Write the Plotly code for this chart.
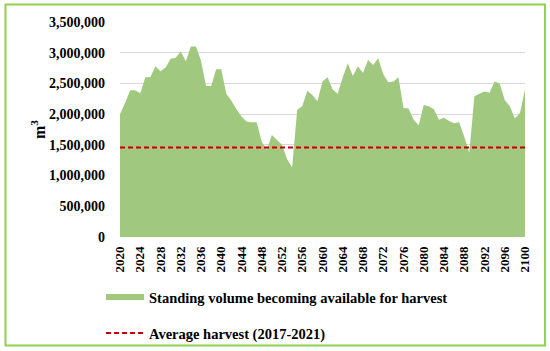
import plotly.graph_objects as go

years = list(range(2020, 2101))
standing_volume = [
    2000000, 2180000, 2390000, 2390000, 2340000, 2600000, 2600000, 2780000, 2700000, 2760000,  # 2020-2029
    2900000, 2920000, 3020000, 2860000, 3100000, 3100000, 2870000, 2460000, 2460000, 2730000,  # 2030-2039
    2730000, 2330000, 2220000, 2080000, 1960000, 1880000, 1870000, 1870000, 1550000, 1420000,  # 2040-2049
    1660000, 1580000, 1500000, 1270000, 1130000, 2070000, 2130000, 2380000, 2310000, 2210000,  # 2050-2059
    2530000, 2600000, 2400000, 2330000, 2600000, 2830000, 2620000, 2780000, 2670000, 2880000,  # 2060-2069
    2800000, 2910000, 2650000, 2520000, 2530000, 2600000, 2100000, 2090000, 1910000, 1820000,  # 2070-2079
    2150000, 2130000, 2080000, 1910000, 1940000, 1890000, 1850000, 1870000, 1630000, 1370000,  # 2080-2089
    2290000, 2330000, 2370000, 2350000, 2530000, 2500000, 2230000, 2130000, 1930000, 2020000,  # 2090-2099
    2400000,                                                                                     # 2100
]
average_harvest = 1457000
tick_years = list(range(2020, 2101, 4))
y_ticks = [0, 500000, 1000000, 1500000, 2000000, 2500000, 3000000, 3500000]
y_ticklabels = ["0", "500,000", "1,000,000", "1,500,000", "2,000,000", "2,500,000", "3,000,000", "3,500,000"]

FONT = "Liberation Serif"

# plot area pixel geometry (for paper conversions)
L, R, T, B = 120, 525, 22, 237
W, H = R - L, B - T
def px(x): return (x - L) / W
def py(y): return (B - y) / H

fig = go.Figure()
fig.add_trace(go.Scatter(
    x=years, y=standing_volume, mode="none", fill="tozeroy",
    fillcolor="#a0c97f", name="<b>Standing volume becoming available for harvest</b>",
    legend="legend",
))
fig.add_trace(go.Scatter(
    x=[years[0], years[-1]], y=[average_harvest, average_harvest], mode="lines",
    line=dict(color="#c00000", width=2, dash="5px,3px"),
    name="<b>Average harvest (2017-2021)</b>", legend="legend2",
))

fig.update_layout(
    width=550, height=351,
    margin=dict(l=L, r=550 - R, t=T, b=351 - B, autoexpand=False),
    paper_bgcolor="white", plot_bgcolor="white",
    font=dict(family=FONT, color="black", size=14),
    showlegend=True,
    legend=dict(x=px(101), y=py(297), xanchor="left", yanchor="middle",
                font=dict(family=FONT, size=14.5, color="black"), itemwidth=38,
                bgcolor="rgba(0,0,0,0)"),
    legend2=dict(x=px(101), y=py(333), xanchor="left", yanchor="middle",
                 font=dict(family=FONT, size=14.5, color="black"), itemwidth=38,
                 bgcolor="rgba(0,0,0,0)"),
    xaxis=dict(range=[2020, 2100], tickvals=tick_years, ticktext=[f"<b>{y}</b>" for y in tick_years],
               tickangle=-90, tickfont=dict(family=FONT, size=13, color="black"),
               showgrid=False, zeroline=False, showline=False, ticks="", ticklabelstandoff=6),
    yaxis=dict(range=[0, 3500000], tickvals=y_ticks, ticktext=[f"<b>{t}</b>" for t in y_ticklabels],
               tickfont=dict(family=FONT, size=14, color="black"),
               showgrid=True, gridcolor="#d9d9d9", gridwidth=1, zeroline=False, showline=False,
               ticks="", ticklabelstandoff=14),
    annotations=[dict(text="<b>m<sup>3</sup></b>", x=px(38), y=py(130), xref="paper", yref="paper",
                      xanchor="center", yanchor="middle",
                      showarrow=False, textangle=-90, font=dict(family=FONT, size=16, color="black"))],
    shapes=[dict(type="rect", xref="paper", yref="paper", x0=px(5.5), x1=px(545), y0=py(345.5), y1=py(4.5),
                 line=dict(color="#92d050", width=2), fillcolor="rgba(0,0,0,0)", layer="above")],
)

fig.write_html("out.html", config={"displayModeBar": False},
               post_script="document.body.style.margin='0px';document.body.style.overflow='hidden';")
